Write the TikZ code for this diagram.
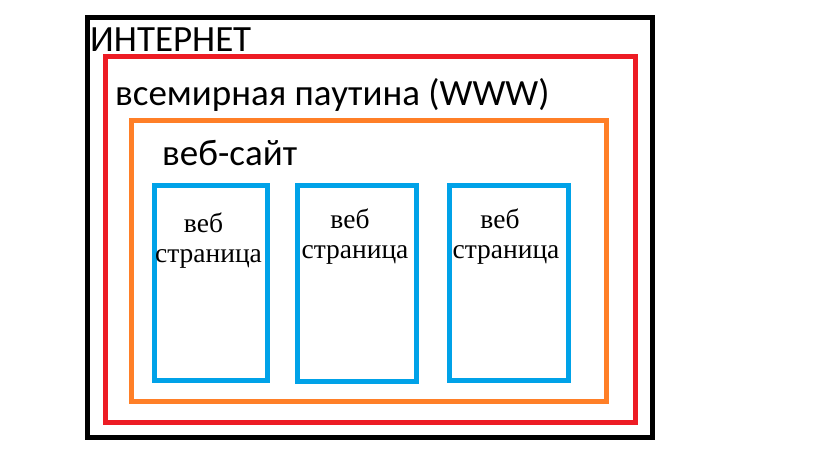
\documentclass[tikz,border=0pt]{standalone}
\usepackage{fontspec}
\setmainfont{Liberation Serif}
\newfontfamily\headfont{Carlito}
\definecolor{pblack}{HTML}{000000}
\definecolor{pred}{HTML}{ED1C24}
\definecolor{porange}{HTML}{FF7F27}
\definecolor{pblue}{HTML}{00A2E8}
\tikzset{
  frame/.style={line width=5pt, draw=#1, line join=miter},
  head/.style={anchor=base west, inner sep=0pt, font=\headfont\fontsize{37}{41}\selectfont},
  pagetext/.style={anchor=base, inner sep=0pt, font=\fontsize{27.5}{30}\selectfont},
}
\begin{document}
\begin{tikzpicture}[x=1pt,y=-1pt]
\useasboundingbox (0,0) rectangle (819,460);
\fill[white] (0,0) rectangle (819,460);
\draw[frame=pblack] (87.5,18) rectangle (652.5,437.5);
\draw[frame=pred] (105.5,56.5) rectangle (635.5,422.5);
\draw[frame=porange] (131.5,120) rectangle (606.5,401.5);
\draw[frame=pblue] (154.5,185.5) rectangle (267.5,380.5);
\draw[frame=pblue] (297.5,185.5) rectangle (416.5,381.5);
\draw[frame=pblue] (449.5,185.5) rectangle (568.5,380.5);
\node[head] (internet) at (90,52) {ИНТЕРНЕТ};
\node[head] (www) at (115,105) {всемирная паутина (WWW)};
\node[head] (site) at (162,165) {веб-сайт};
\node[pagetext] (p1a) at (203.5,232) {веб};
\node[pagetext] (p1b) at (208.5,262) {страница};
\node[pagetext] (p2a) at (350,228) {веб};
\node[pagetext] (p2b) at (355,258) {страница};
\node[pagetext] (p3a) at (500,228) {веб};
\node[pagetext] (p3b) at (506,258) {страница};
\end{tikzpicture}
\end{document}
